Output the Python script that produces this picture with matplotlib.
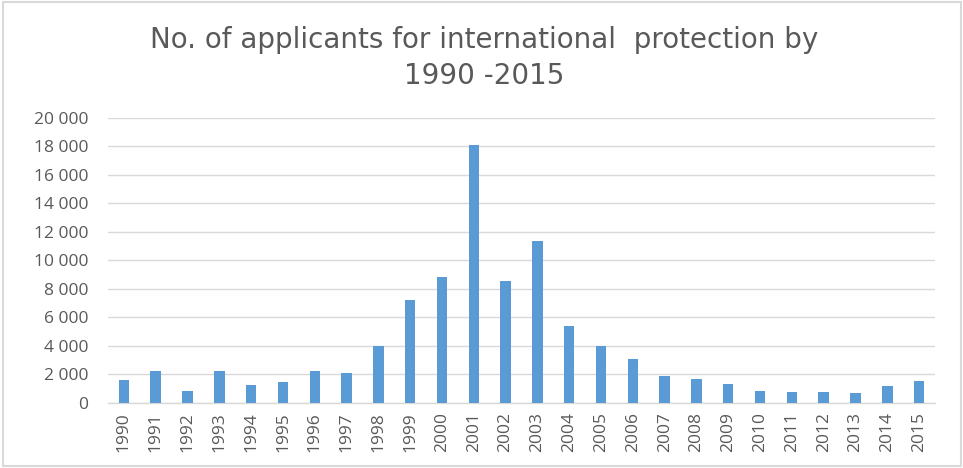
import matplotlib
matplotlib.use("Agg")
import matplotlib.pyplot as plt
from matplotlib.ticker import FuncFormatter, MultipleLocator
from matplotlib.patches import Rectangle

years = [str(y) for y in range(1990, 2016)]
applicants = [1580, 2230, 830, 2230, 1210, 1430, 2230, 2100, 4000, 7220, 8830,
              18100, 8550, 11360, 5400, 3960, 3070, 1880, 1670, 1310, 830,
              760, 760, 690, 1140, 1500]
title = "No. of applicants for international  protection by\n1990 -2015"

plt.rcParams['font.family'] = ['Open Sans', 'DejaVu Sans']
TXT = '#595959'

fig = plt.figure(figsize=(9.63, 4.68), dpi=100)
ax = fig.add_axes([108/963, 65.3/468, (935-108)/963, (402.7-117.7)/468])

x = list(range(len(years)))
ax.bar(x, applicants, width=0.33, color='#5B9BD5', zorder=3)

ax.set_ylim(0, 20000)
ax.set_xlim(-0.5, len(years) - 0.5)
ax.yaxis.set_major_locator(MultipleLocator(2000))
ax.yaxis.set_major_formatter(FuncFormatter(lambda v, p: f"{int(v):,}".replace(",", " ")))
ax.set_xticks(x)
ax.set_xticklabels(years, rotation=90)

ax.grid(axis='y', color='#D9D9D9', linewidth=1, zorder=0)
for s in ['top', 'right', 'left']:
    ax.spines[s].set_visible(False)
ax.spines['bottom'].set_color('#D9D9D9')
ax.spines['bottom'].set_linewidth(1)
ax.tick_params(axis='both', length=0, labelsize=12.5, colors=TXT)
ax.tick_params(axis='y', pad=14)
ax.tick_params(axis='x', pad=7)

fig.text(0.5 * (120 + 848) / 963, 1 - 26/468, title, ha='center', va='top',
         fontsize=20, color=TXT, linespacing=1.35, family=['DejaVu Sans'])

fig.patches.append(Rectangle((3/963, 2/468), 958/963, 464.5/468, transform=fig.transFigure,
                             fill=False, edgecolor='#D9D9D9', linewidth=1.5))

fig.savefig('out.png', dpi=100)
